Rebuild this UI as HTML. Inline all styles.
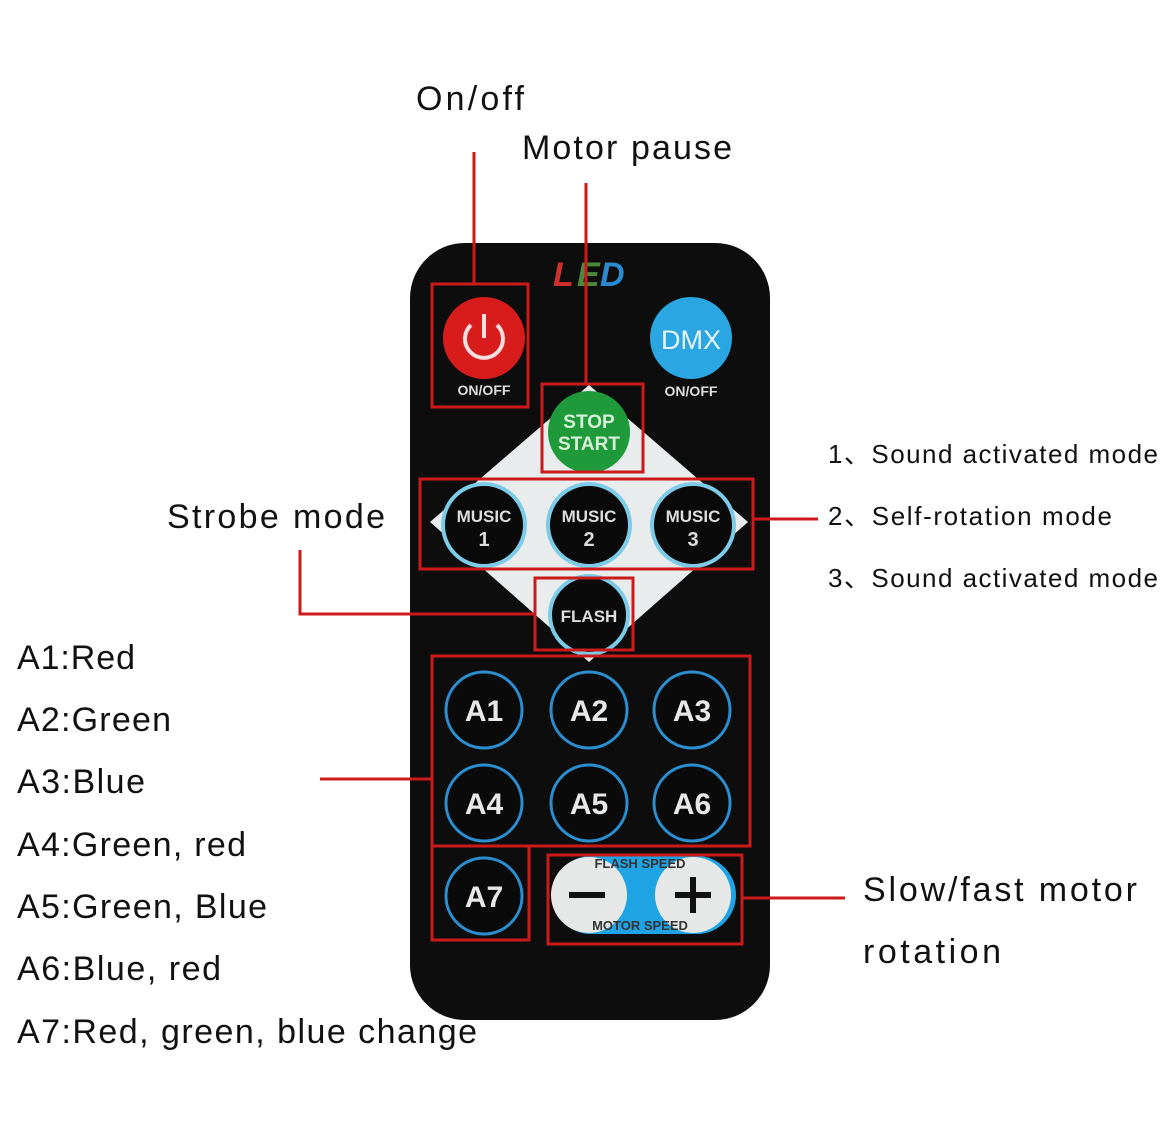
<!DOCTYPE html>
<html><head><meta charset="utf-8"><style>
html,body{margin:0;padding:0;background:#fff;}
svg{display:block;}
text{font-family:"Liberation Sans","Noto Sans CJK SC",sans-serif;}
</style></head><body>
<svg width="1170" height="1140" viewBox="0 0 1170 1140" xmlns="http://www.w3.org/2000/svg">
<rect width="1170" height="1140" fill="#fff"/>
<!-- remote body -->
<rect x="410" y="243" width="360" height="777" rx="55" fill="#0d0d0d"/>
<!-- LED -->
<text x="553" y="286" font-size="34" font-weight="bold" font-style="italic" fill="#d0302a">L</text>
<text x="577" y="286" font-size="34" font-weight="bold" font-style="italic" fill="#4a8a3a">E</text>
<text x="600" y="286" font-size="34" font-weight="bold" font-style="italic" fill="#2a8ad0">D</text>
<!-- white diamond -->
<polygon points="589,385 748,522 589,662 430,522" fill="#e8ecec"/>
<!-- power -->
<circle cx="484" cy="338" r="41" fill="#d81c1c"/>
<path d="M471,325 A19,19 0 1 0 497,325" fill="none" stroke="#f4dede" stroke-width="4"/>
<line x1="484" y1="314" x2="484" y2="338" stroke="#f4dede" stroke-width="4"/>
<text x="484" y="395" font-size="14" font-weight="bold" fill="#ddd" text-anchor="middle">ON/OFF</text>
<!-- DMX -->
<circle cx="691" cy="338" r="41" fill="#2aa6e2"/>
<text x="691" y="349" font-size="27" fill="#e8f4fa" text-anchor="middle">DMX</text>
<text x="691" y="396" font-size="14" font-weight="bold" fill="#ddd" text-anchor="middle">ON/OFF</text>
<!-- stop start -->
<circle cx="589" cy="432" r="41" fill="#1f9a3a"/>
<text x="589" y="428" font-size="19" font-weight="bold" fill="#d8f0d8" text-anchor="middle">STOP</text>
<text x="589" y="450" font-size="19" font-weight="bold" fill="#d8f0d8" text-anchor="middle">START</text>
<!-- music -->
<g font-size="17" font-weight="bold" fill="#ddd" text-anchor="middle">
<circle cx="484" cy="525" r="41" fill="#0a0a0a" stroke="#7ccbe8" stroke-width="4"/>
<text x="484" y="522">MUSIC</text><text x="484" y="546" font-size="20">1</text>
<circle cx="589" cy="525" r="41" fill="#0a0a0a" stroke="#7ccbe8" stroke-width="4"/>
<text x="589" y="522">MUSIC</text><text x="589" y="546" font-size="20">2</text>
<circle cx="693" cy="525" r="41" fill="#0a0a0a" stroke="#7ccbe8" stroke-width="4"/>
<text x="693" y="522">MUSIC</text><text x="693" y="546" font-size="20">3</text>
<circle cx="589" cy="615" r="39" fill="#0a0a0a" stroke="#7ccbe8" stroke-width="4"/>
<text x="589" y="622">FLASH</text>
</g>
<!-- A buttons -->
<g font-size="30" font-weight="bold" fill="#e8e8e8" text-anchor="middle" stroke-width="3">
<circle cx="484" cy="710" r="38" fill="#0a0a0a" stroke="#2a8ed0"/><text x="484" y="721" stroke="none">A1</text>
<circle cx="589" cy="710" r="38" fill="#0a0a0a" stroke="#2a8ed0"/><text x="589" y="721" stroke="none">A2</text>
<circle cx="692" cy="710" r="38" fill="#0a0a0a" stroke="#2a8ed0"/><text x="692" y="721" stroke="none">A3</text>
<circle cx="484" cy="803" r="38" fill="#0a0a0a" stroke="#2a8ed0"/><text x="484" y="814" stroke="none">A4</text>
<circle cx="589" cy="803" r="38" fill="#0a0a0a" stroke="#2a8ed0"/><text x="589" y="814" stroke="none">A5</text>
<circle cx="692" cy="803" r="38" fill="#0a0a0a" stroke="#2a8ed0"/><text x="692" y="814" stroke="none">A6</text>
<circle cx="484" cy="896" r="38" fill="#0a0a0a" stroke="#2a8ed0"/><text x="484" y="907" stroke="none">A7</text>
</g>
<!-- speed pill -->
<rect x="552" y="856" width="184" height="78" rx="39" fill="#1ea4e4"/>
<circle cx="589" cy="895" r="38" fill="#e6e8e8"/>
<circle cx="693" cy="895" r="38" fill="#e6e8e8"/>
<rect x="569" y="892" width="36" height="6" fill="#111"/>
<rect x="675" y="892" width="36" height="6" fill="#111"/>
<rect x="690" y="877" width="6" height="36" fill="#111"/>
<text x="640" y="868" font-size="13" font-weight="bold" fill="#333" text-anchor="middle">FLASH SPEED</text>
<text x="640" y="930" font-size="13" font-weight="bold" fill="#333" text-anchor="middle">MOTOR SPEED</text>
<!-- red boxes and lines -->
<g fill="none" stroke="#cc1a1a" stroke-width="3">
<rect x="432" y="284" width="96" height="123"/>
<line x1="474" y1="152" x2="474" y2="284"/>
<rect x="542" y="384" width="101" height="88"/>
<line x1="586" y1="183" x2="586" y2="384"/>
<rect x="420" y="479" width="333" height="90"/>
<line x1="753" y1="519" x2="818" y2="519"/>
<rect x="535" y="578" width="98" height="72"/>
<polyline points="300,550 300,614 535,614"/>
<rect x="432" y="656" width="318" height="190"/>
<rect x="432" y="846" width="97" height="94"/>
<line x1="320" y1="779" x2="432" y2="779"/>
<rect x="548" y="855" width="194" height="89"/>
<line x1="742" y1="898" x2="845" y2="898"/>
</g>
<!-- labels -->
<g fill="#111" font-size="34">
<text x="416" y="110" textLength="108">On/off</text>
<text x="522" y="159" textLength="210">Motor pause</text>
<text x="167" y="528" textLength="218">Strobe mode</text>
<text x="863" y="901" textLength="274">Slow/fast motor</text>
<text x="863" y="963" textLength="138">rotation</text>
<text x="17" y="669" textLength="118">A1:Red</text>
<text x="17" y="731" textLength="154">A2:Green</text>
<text x="17" y="793" textLength="128">A3:Blue</text>
<text x="17" y="856" textLength="229">A4:Green, red</text>
<text x="17" y="918" textLength="250">A5:Green, Blue</text>
<text x="17" y="980" textLength="204">A6:Blue, red</text>
<text x="17" y="1043" textLength="460">A7:Red, green, blue change</text>
</g>
<g fill="#111" font-size="26">
<text x="828" y="463" textLength="330">1、Sound activated mode</text>
<text x="828" y="525" textLength="284">2、Self-rotation mode</text>
<text x="828" y="587" textLength="330">3、Sound activated mode</text>
</g>
</svg>
</body></html>
